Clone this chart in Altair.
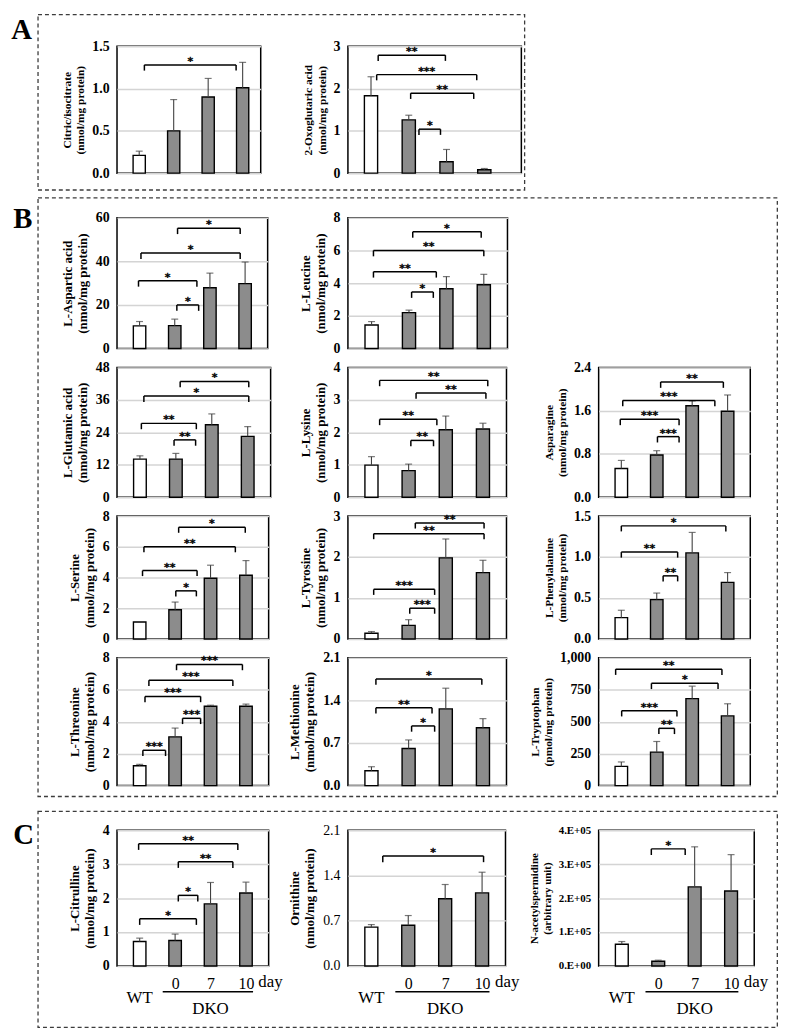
import altair as alt
import pandas as pd

FONT = "Liberation Serif"
STAR_FONT = "DejaVu Sans"

# ---------------- data ----------------
CATEGORIES = ["WT", "DKO 0", "DKO 7", "DKO 10"]
POSITIONS = [0, 1, 2, 3]
GROUPS = ["WT", "DKO", "DKO", "DKO"]
DAY_LABELS = ["0", "7", "10"]
C_TEXT = ["WT", "DKO", "day"]
C_TEXT_POS = [0.0, 2.0, 3.35]
DKO_LINE = [0.65, 3.2]

# brackets: (x from, x to, height, stars)
CITRIC_MEAN = [0.21, 0.50, 0.90, 1.01]
CITRIC_SD = [0.05, 0.37, 0.22, 0.30]
CITRIC_BR = [(0.15, 2.81, 1.28, "*")]

OXO_MEAN = [1.83, 1.26, 0.27, 0.08]
OXO_SD = [0.45, 0.11, 0.29, 0.03]
OXO_BR = [(0.19, 1.97, 2.79, "**"), (0.15, 2.80, 2.33, "***"),
          (1.05, 2.72, 1.89, "**"), (1.27, 1.84, 1.04, "*")]

ASP_MEAN = [10.4, 10.5, 27.9, 29.8]
ASP_SD = [2.0, 3.0, 6.7, 9.9]
ASP_BR = [(1.08, 2.86, 55.2, "*"), (0.04, 2.86, 43.8, "*"),
          (-0.03, 1.63, 31.1, "*"), (1.06, 1.68, 20.0, "*")]

LEU_MEAN = [1.44, 2.20, 3.66, 3.90]
LEU_SD = [0.21, 0.15, 0.74, 0.64]
LEU_BR = [(1.10, 2.93, 7.14, "*"), (0.05, 3.00, 6.00, "**"),
          (0.05, 1.73, 4.70, "**"), (1.07, 1.65, 3.46, "*")]

GLU_MEAN = [14.1, 14.1, 26.8, 22.5]
GLU_SD = [1.2, 2.1, 4.0, 3.6]
GLU_BR = [(1.12, 3.03, 42.8, "*"), (0.11, 3.03, 37.4, "*"),
          (0.04, 1.57, 27.3, "**"), (0.95, 1.55, 21.2, "**")]

LYS_MEAN = [0.99, 0.82, 2.08, 2.10]
LYS_SD = [0.26, 0.20, 0.42, 0.18]
LYS_BR = [(0.22, 3.13, 3.60, "**"), (1.20, 3.08, 3.21, "**"),
          (0.22, 1.76, 2.40, "**"), (1.06, 1.67, 1.75, "**")]

ASN_MEAN = [0.53, 0.78, 1.69, 1.59]
ASN_SD = [0.15, 0.08, 0.09, 0.30]
ASN_BR = [(1.11, 2.88, 2.13, "**"), (0.04, 2.64, 1.79, "***"),
          (-0.03, 1.63, 1.44, "***"), (1.02, 1.63, 1.12, "***")]

SER_MEAN = [1.10, 1.90, 3.95, 4.15]
SER_SD = [0.03, 0.50, 0.85, 0.95]
SER_BR = [(1.10, 2.98, 7.27, "*"), (0.12, 2.70, 6.00, "**"),
          (0.08, 1.62, 4.45, "**"), (1.02, 1.60, 3.13, "*")]

TYR_MEAN = [0.14, 0.33, 1.98, 1.62]
TYR_SD = [0.04, 0.14, 0.46, 0.30]
TYR_BR = [(1.18, 3.03, 2.83, "**"), (0.06, 3.03, 2.57, "**"),
          (0.06, 1.70, 1.21, "***"), (1.03, 1.70, 0.75, "***")]

PHE_MEAN = [0.26, 0.48, 1.05, 0.69]
PHE_SD = [0.09, 0.08, 0.25, 0.12]
PHE_BR = [(0.00, 2.95, 1.38, "*"), (0.00, 1.59, 1.06, "**"),
          (1.18, 1.59, 0.77, "**")]

THR_MEAN = [1.24, 3.05, 4.97, 4.97]
THR_SD = [0.09, 0.55, 0.06, 0.13]
THR_BR = [(1.04, 2.90, 7.58, "***"), (0.26, 2.63, 6.59, "***"),
          (0.15, 1.72, 5.58, "***"), (1.21, 1.72, 4.21, "***"),
          (0.09, 0.73, 2.21, "***")]

MET_MEAN = [0.245, 0.61, 1.26, 0.95]
MET_SD = [0.065, 0.14, 0.34, 0.15]
MET_BR = [(0.12, 2.97, 1.75, "*"), (0.12, 1.63, 1.28, "**"),
          (1.08, 1.70, 0.98, "*")]

TRP_MEAN = [150, 262, 680, 545]
TRP_SD = [35, 83, 98, 95]
TRP_BR = [(-0.16, 2.84, 911, "**"), (0.85, 2.73, 800, "*"),
          (0.01, 1.57, 586, "***"), (1.06, 1.50, 448, "**")]

CIT_MEAN = [0.72, 0.75, 1.83, 2.15]
CIT_SD = [0.10, 0.19, 0.63, 0.32]
CIT_BR = [(-0.03, 2.77, 3.60, "**"), (1.09, 2.63, 3.07, "**"),
          (1.09, 1.64, 2.08, "*"), (0.00, 1.60, 1.39, "*")]

ORN_MEAN = [0.60, 0.63, 1.04, 1.13]
ORN_SD = [0.04, 0.15, 0.22, 0.32]
ORN_BR = [(0.31, 3.04, 1.70, "*")]

NAS_MEAN = [64000, 14000, 233000, 221000]
NAS_SD = [8000, 3000, 118000, 107000]
NAS_BR = [(0.81, 1.74, 345000, "*")]


# ---------------- helpers ----------------
def panel(title, mean, sd, brackets, ymax, step, fmt, width, height,
          xmin=-0.5, xmax=3.5, title_size=13, label_size=14, label_weight="bold",
          label_expr=None, c_axis=False, extras=()):
    bars = pd.DataFrame({"pos": POSITIONS, "group": GROUPS, "cat": CATEGORIES,
                         "mean": mean, "sd": sd})
    xs = alt.Scale(domain=[xmin, xmax], nice=False, zero=False)
    ys = alt.Scale(domain=[0, ymax], nice=False, zero=True)
    n = int(round(ymax / step))
    ticks = [round(i * step, 6) for i in range(n + 1)]
    ykw = dict(values=ticks, title=title, grid=True, ticks=False, domain=False,
               labelFont=FONT, labelFontSize=label_size, labelFontWeight=label_weight,
               labelColor="black", labelPadding=8,
               titleFont=FONT, titleFontSize=title_size, titleFontWeight="bold",
               titleColor="black", titlePadding=6,
               gridColor="#d4d4d4", gridWidth=1.5)
    if label_expr:
        ykw["labelExpr"] = label_expr
    else:
        ykw["format"] = fmt
    yaxis = alt.Axis(**ykw)
    if c_axis:
        expr = " : ".join(
            f"datum.value == {p} ? '{t}'" for p, t in zip(POSITIONS[1:], DAY_LABELS)
        ) + " : ''"
        xaxis = alt.Axis(values=POSITIONS[1:], labelExpr=expr, grid=False, ticks=False,
                         domain=False, labelFont=FONT, labelFontSize=16,
                         labelColor="black", labelPadding=10, title=None)
    else:
        xaxis = None

    def X(f):
        return alt.X(f, type="quantitative", scale=xs, axis=xaxis)

    def Y(f):
        return alt.Y(f, type="quantitative", scale=ys, axis=yaxis)

    unit = width / (xmax - xmin)
    base = alt.Chart(bars)
    bar = base.mark_bar(size=0.33 * unit, stroke="black", strokeWidth=1.4).encode(
        x=X("pos"), y=Y("mean"),
        fill=alt.Fill("group:N", scale=alt.Scale(domain=["WT", "DKO"],
                                                 range=["white", "#8c8c8c"]),
                      legend=None))
    eb = base.transform_calculate(top="datum.mean + datum.sd")
    err = eb.mark_rule(color="#404040", strokeWidth=1.1).encode(
        x=X("pos"), y=Y("mean"), y2="top:Q")
    cap = eb.mark_tick(orient="horizontal", size=7, thickness=1.2, color="#404040").encode(
        x=X("pos"), y=Y("top"))

    br = pd.DataFrame(brackets, columns=["x1", "x2", "y", "label"])
    drop = 0.045 * ymax
    bb = alt.Chart(br).transform_calculate(ylow=f"datum.y - {drop}",
                                           xm="(datum.x1 + datum.x2) / 2")
    hl = bb.mark_rule(color="black", strokeWidth=1.5).encode(x=X("x1"), x2="x2:Q", y=Y("y"))
    lt = bb.mark_rule(color="black", strokeWidth=1.5).encode(x=X("x1"), y=Y("y"), y2="ylow:Q")
    rt = bb.mark_rule(color="black", strokeWidth=1.5).encode(x=X("x2"), y=Y("y"), y2="ylow:Q")
    st = bb.mark_text(font=STAR_FONT, fontSize=11, fontWeight="bold", baseline="bottom",
                      dy=2, stroke="black", strokeWidth=0.3).encode(
        x=X("xm"), y=Y("y"), text="label:N", fill=alt.value("black"))

    layers = [bar, err, cap, hl, lt, rt, st]
    for e in extras:
        layers.append(e(X, width, height))
    return alt.layer(*layers).properties(width=width, height=height)


def section(letter, lx, ly, bx1, bx2, by1, by2):
    def make(X, width, height):
        d = alt.Chart(pd.DataFrame({"letter": [letter]}))
        box = d.mark_rect(fillOpacity=0, stroke="#3c3c3c", strokeWidth=1.3,
                          strokeDash=[4, 3]).encode(
            x=alt.value(bx1), x2=alt.value(bx2), y=alt.value(by1), y2=alt.value(by2))
        txt = d.mark_text(font=FONT, fontSize=29, fontWeight="bold", align="left",
                          baseline="alphabetic").encode(
            x=alt.value(lx), y=alt.value(ly), text="letter:N", fill=alt.value("black"))
        return alt.layer(box, txt)
    return make


def c_labels(X, width, height):
    df = pd.DataFrame({"t": C_TEXT, "pos": C_TEXT_POS})
    base = alt.Chart(df)
    wt = base.transform_filter(alt.datum.t == "WT").mark_text(
        font=FONT, fontSize=17, baseline="middle").encode(
        x=X("pos"), y=alt.value(height + 32), text="t:N", fill=alt.value("black"))
    dko = base.transform_filter(alt.datum.t == "DKO").mark_text(
        font=FONT, fontSize=17, baseline="middle").encode(
        x=X("pos"), y=alt.value(height + 43), text="t:N", fill=alt.value("black"))
    day = base.transform_filter(alt.datum.t == "day").mark_text(
        font=FONT, fontSize=17, align="left", baseline="middle").encode(
        x=X("pos"), y=alt.value(height + 16), text="t:N", fill=alt.value("black"))
    ln = alt.Chart(pd.DataFrame({"a": [DKO_LINE[0]], "b": [DKO_LINE[1]]})).mark_rule(
        color="black", strokeWidth=1.3).encode(x=X("a"), x2="b:Q", y=alt.value(height + 26))
    return alt.layer(wt, dko, day, ln)


def blank(w, h):
    return alt.Chart(pd.DataFrame({"a": [0]})).mark_point(opacity=0).encode(
        x=alt.X("a:Q", axis=None), y=alt.Y("a:Q", axis=None)
    ).properties(width=w, height=h, view=alt.ViewBackground(strokeOpacity=0))


NM = "(nmol/mg protein)"
HA, HB1, HB2, HB3, HB4, HC = 128, 132, 131, 124, 129, 137

cells = [
    panel(["Citric/isocitrate", NM], CITRIC_MEAN, CITRIC_SD, CITRIC_BR, 1.5, 0.5, ".1f",
          145, HA, xmax=3.38, title_size=11.5,
          extras=[section("A", -106.7, -7, -79.7, 411.3, -32, 145)]),
    panel(["2-Oxoglutaric acid", NM], OXO_MEAN, OXO_SD, OXO_BR, 3, 1, "d",
          175, HA, xmin=-0.48, xmax=3.85, title_size=11.5),
    blank(10, 154),

    panel(["L-Aspartic acid", NM], ASP_MEAN, ASP_SD, ASP_BR, 60, 20, "d", 152, HB1,
          extras=[section("B", -104.7, 10, -79.7, 666.3, -20, 584)]),
    panel(["L-Leucine", NM], LEU_MEAN, LEU_SD, LEU_BR, 8, 2, "d", 161, HB1),
    blank(10, HB1),

    panel(["L-Glutamic acid", NM], GLU_MEAN, GLU_SD, GLU_BR, 48, 12, "d", 155, HB2),
    panel(["L-Lysine", NM], LYS_MEAN, LYS_SD, LYS_BR, 4, 1, "d", 160, HB2),
    panel(["Asparagine", NM], ASN_MEAN, ASN_SD, ASN_BR, 2.4, 0.8, ".1f", 153, HB2,
          title_size=11.5),

    panel(["L-Serine", NM], SER_MEAN, SER_SD, SER_BR, 8, 2, "d", 153, HB3),
    panel(["L-Tyrosine", NM], TYR_MEAN, TYR_SD, TYR_BR, 3, 1, "d", 160, HB3),
    panel(["L-Phenylalanine", NM], PHE_MEAN, PHE_SD, PHE_BR, 1.5, 0.5, ".1f", 153, HB3,
          title_size=11.5),

    panel(["L-Threonine", NM], THR_MEAN, THR_SD, THR_BR, 8, 2, "d", 153, HB4),
    panel(["L-Methionine", NM], MET_MEAN, MET_SD, MET_BR, 2.1, 0.7, ".1f", 160, HB4),
    panel(["L-Tryptophan", "(pmol/mg protein)"], TRP_MEAN, TRP_SD, TRP_BR, 1000, 250,
          ",.0f", 153, HB4, title_size=11.5),

    blank(10, 7), blank(10, 7), blank(10, 7),

    panel(["L-Citrulline", NM], CIT_MEAN, CIT_SD, CIT_BR, 4, 1, "d", 153, HC, c_axis=True,
          extras=[section("C", -104.7, 14, -79.7, 666.3, -19, 199), c_labels]),
    panel(["Ornithine", NM], ORN_MEAN, ORN_SD, ORN_BR, 2.1, 0.7, ".1f", 159, HC,
          c_axis=True, label_weight="normal", extras=[c_labels]),
    panel(["N-acetylspermidine", "(arbitrary unit)"], NAS_MEAN, NAS_SD, NAS_BR,
          400000, 100000, "d", 157, HC, c_axis=True, title_size=11, label_size=11,
          label_expr="datum.value == 0 ? '0.E+00' : format(datum.value / 100000, 'd') + '.E+05'",
          extras=[c_labels]),
]

chart = alt.concat(
    *cells, columns=3, bounds="flush", align="each",
    spacing={"row": 19, "column": 78},
).properties(
    padding={"left": 2, "top": 0, "right": 2, "bottom": 0},
    background="white",
).configure_view(stroke="black", strokeWidth=1.5)

chart.save("out.html", embed_options={"renderer": "svg", "actions": False})
